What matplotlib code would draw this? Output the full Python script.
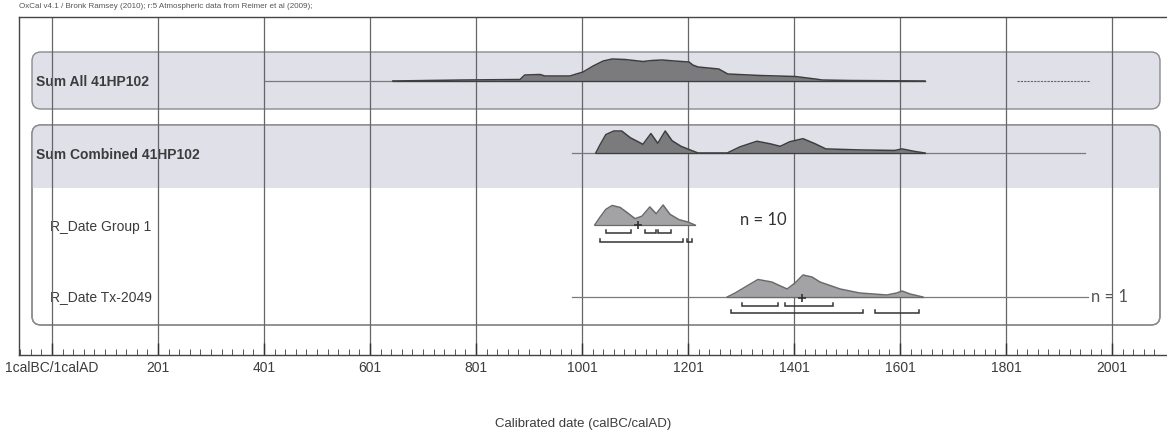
import numpy as np
import matplotlib
matplotlib.use("Agg")
import matplotlib.pyplot as plt
from matplotlib.patches import FancyBboxPatch, Rectangle

plt.rcParams['font.family'] = ['Liberation Sans', 'DejaVu Sans']

# ---------------- data (calendar years AD, relative probability) ----------------
sum_all_years = [644, 776, 884, 893, 922, 931, 978, 1003, 1022, 1041, 1058, 1082,
                 1116, 1133, 1152, 1176, 1203, 1210, 1220, 1259, 1276, 1337, 1403,
                 1441, 1454, 1507, 1648]
sum_all_prob = [0.0, 1.0, 1.5, 6.0, 6.5, 5.0, 5.0, 9.0, 15.0, 20.0, 22.0, 21.5,
                19.5, 20.5, 21.0, 20.0, 19.0, 16.0, 14.0, 12.0, 7.0, 5.5, 4.5,
                2.0, 1.0, 0.5, 0.0]
sum_all_span = [403, 1648]
sum_all_tail = [1822, 1960]          # very low probability tail

sum_comb_years = [1027, 1035, 1046, 1061, 1076, 1092, 1116, 1131, 1144, 1158, 1171, 1188,
                  1205, 1220, 1275, 1299, 1331, 1356, 1375, 1393, 1418, 1441, 1461,
                  1525, 1591, 1605, 1629, 1648]
sum_comb_prob = [0.0, 8.0, 18.0, 21.5, 21.5, 15.0, 8.5, 19.0, 9.5, 21.5, 12.0, 6.5,
                 3.0, 0.0, 0.0, 6.0, 11.5, 9.0, 6.5, 11.0, 14.0, 9.0, 4.0,
                 3.0, 2.5, 4.0, 1.5, 0.0]
sum_comb_span = [982, 1950]

grp1_years = [1025, 1035, 1046, 1058, 1073, 1088, 1101, 1114, 1129, 1141, 1154, 1167,
              1184, 1201, 1214]
grp1_prob = [0.0, 8.0, 16.0, 20.0, 18.0, 12.0, 6.5, 9.0, 18.5, 11.5, 20.5, 11.0,
             5.5, 3.0, 0.0]
grp1_r68 = [(1046, 1093), (1120, 1141), (1145, 1169)]
grp1_r95 = [(1035, 1192), (1199, 1209)]
grp1_mark = 1107

tx_years = [1275, 1290, 1309, 1333, 1359, 1388, 1403, 1418, 1435, 1450, 1488, 1525,
            1576, 1595, 1605, 1620, 1644]
tx_prob = [0.0, 4.0, 10.0, 17.5, 15.0, 8.0, 14.0, 22.0, 20.0, 15.0, 8.0, 4.0,
           2.0, 4.0, 6.0, 3.0, 0.0]
tx_span = [982, 1956]
tx_r68 = [(1303, 1371), (1384, 1475)]
tx_r95 = [(1282, 1531), (1554, 1637)]
tx_mark = 1416

row_labels = ["Sum All 41HP102", "Sum Combined 41HP102", "R_Date Group 1", "R_Date Tx-2049"]
n_labels = ["n = 10", "n = 1"]

major_ticks = [1, 201, 401, 601, 801, 1001, 1201, 1401, 1601, 1801, 2001]
major_labels = ["1calBC/1calAD", "201", "401", "601", "801", "1001", "1201", "1401",
                "1601", "1801", "2001"]
caption = "OxCal v4.1 / Bronk Ramsey (2010); r:5 Atmospheric data from Reimer et al (2009);"
xlabel = "Calibrated date (calBC/calAD)"

# ---------------- layout ----------------
W, H = 1167, 440
PX_PER_YEAR = 0.53
X_YEAR1 = 52.0
def year_at(px):
    return 1 + (px - X_YEAR1) / PX_PER_YEAR

fig = plt.figure(figsize=(W / 100, H / 100), dpi=100)
fig.patch.set_facecolor('white')

bg = fig.add_axes([0, 0, 1, 1])
bg.set_xlim(0, W)
bg.set_ylim(H, 0)
bg.axis('off')
bg.set_zorder(0)

L, T, B = 19, 17, 355
ax = fig.add_axes([L / W, (H - B) / H, (W - L) / W, (B - T) / H])
ax.set_zorder(1)
ax.patch.set_alpha(0)
ax.set_xlim(year_at(L), year_at(W))
ax.set_ylim(B, T)

shade = '#dfe0e8'
edge = '#8a8a8e'
box1 = FancyBboxPatch((32, 52), 1128, 57, boxstyle="round,pad=0,rounding_size=9",
                      fc=shade, ec=edge, lw=1.0)
bg.add_patch(box1)
box2 = FancyBboxPatch((32, 125), 1128, 200, boxstyle="round,pad=0,rounding_size=9",
                      fc='white', ec=edge, lw=1.0)
bg.add_patch(box2)
hdr = Rectangle((30, 123), 1135, 65, fc=shade, ec='none')
bg.add_patch(hdr)
hdr.set_clip_path(box2)
box2b = FancyBboxPatch((32, 125), 1128, 200, boxstyle="round,pad=0,rounding_size=9",
                       fc='none', ec=edge, lw=1.0)
bg.add_patch(box2b)

tcol = '#3c3c3c'
bg.text(36, 82, row_labels[0], fontsize=10, fontweight='bold', color=tcol, va='center')
bg.text(36, 155, row_labels[1], fontsize=10, fontweight='bold', color=tcol, va='center')
bg.text(50, 227, row_labels[2], fontsize=10, color=tcol, va='center')
bg.text(50, 297, row_labels[3], fontsize=10, color=tcol, va='center')
bg.text(740, 220, n_labels[0], fontsize=12, color='#333333', va='center',
        family=['Lato', 'DejaVu Sans'])
bg.text(1091, 297, n_labels[1], fontsize=12, color='#555555', va='center',
        family=['Lato', 'DejaVu Sans'])

fig.text(L / W, 1 - 6 / H, caption, fontsize=5.8, color='#555555', va='center')
fig.text(583 / W, 1 - 424 / H, xlabel, fontsize=9.5, color=tcol, ha='center', va='center')

ax.spines['right'].set_visible(False)
for s in ['left', 'top', 'bottom']:
    ax.spines[s].set_color('#444444')
    ax.spines[s].set_linewidth(1.0)
ax.set_yticks([])
ax.set_xticks(major_ticks)
ax.set_xticklabels(major_labels)
ax.set_xticks(np.arange(-59, 2101, 20), minor=True)
ax.tick_params(axis='x', which='major', direction='in', length=9, width=1.0,
               color='#333333', labelsize=10, labelcolor=tcol, pad=4)
ax.tick_params(axis='x', which='minor', direction='in', length=4, width=0.7,
               color='#555555')
ax.grid(axis='x', which='major', color='#666666', lw=0.9)

dark_fill, dark_edge = '#7b7b7d', '#3e3e40'
light_fill, light_edge = '#a3a3a5', '#6a6a6c'

def draw_dist(years, prob, base, height, fc, ec, span=None):
    p = np.asarray(prob, float)
    p = p / p.max()
    y = base - p * height
    if span is not None:
        ax.plot(span, [base, base], color='#7a7a7a', lw=0.9, zorder=3)
    ax.fill_between(years, base, y, color=fc, lw=0, zorder=4)
    ax.plot(years, y, color=ec, lw=1.1, zorder=5)
    ax.plot([years[0], years[-1]], [base, base], color=ec, lw=0.9, zorder=5)

def draw_ranges(ranges, yrow, col='#333333'):
    for a, b in ranges:
        ax.plot([a, a, b, b], [yrow - 3, yrow, yrow, yrow - 3], color=col, lw=1.1,
                zorder=5, solid_joinstyle='miter')

draw_dist(sum_all_years, sum_all_prob, 81, 22, dark_fill, dark_edge, span=sum_all_span)
ax.plot(sum_all_tail, [81, 81], color='#666666', lw=0.8, ls=(0, (2, 1)), zorder=3)
draw_dist(sum_comb_years, sum_comb_prob, 153, 22, dark_fill, dark_edge, span=sum_comb_span)
draw_dist(grp1_years, grp1_prob, 225, 20, light_fill, light_edge)
draw_ranges(grp1_r68, 233)
draw_ranges(grp1_r95, 242)
ax.plot([grp1_mark], [225], marker='+', ms=6, mew=1.2, color='#333333', zorder=6)
draw_dist(tx_years, tx_prob, 297, 22, light_fill, light_edge, span=tx_span)
draw_ranges(tx_r68, 306)
draw_ranges(tx_r95, 313)
ax.plot([tx_mark], [298], marker='+', ms=6, mew=1.2, color='#333333', zorder=6)

fig.savefig("out.png", dpi=100)
